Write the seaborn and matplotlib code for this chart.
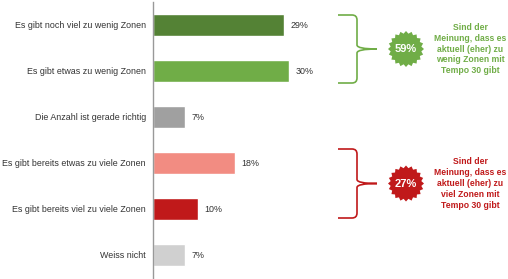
import numpy as np
import pandas as pd
import seaborn as sns
import matplotlib.pyplot as plt
from matplotlib.path import Path
from matplotlib.patches import PathPatch, Polygon

kategorien = ['Es gibt noch viel zu wenig Zonen',
              'Es gibt etwas zu wenig Zonen',
              'Die Anzahl ist gerade richtig',
              'Es gibt bereits etwas zu viele Zonen',
              'Es gibt bereits viel zu viele Zonen',
              'Weiss nicht']
werte = [29, 30, 7, 18, 10, 7]
farben = ['#548235', '#70AD47', '#A0A0A0', '#F28C82', '#C0191A', '#D0D0D0']

gruppe_texte = ['Sind der\nMeinung, dass es\naktuell (eher) zu\nwenig Zonen mit\nTempo 30 gibt',
                'Sind der\nMeinung, dass es\naktuell (eher) zu\nviel Zonen mit\nTempo 30 gibt']
gruppe_werte = ['59%', '27%']
gruppe_farben = ['#70AD47', '#C0191A']

df = pd.DataFrame({'kategorie': kategorien, 'wert': werte})

sns.set_style('white')
plt.rcParams['font.family'] = ['Liberation Sans', 'DejaVu Sans']

W, H = 508, 279
fig = plt.figure(figsize=(W / 100, H / 100), dpi=100)
# Achse: links bei 153 px, oben 2 px, unten 278 px
ax = fig.add_axes([153 / W, 1 / H, (W - 153) / W, 276 / H])
sns.barplot(data=df, x='wert', y='kategorie', hue='kategorie', palette=farben,
            saturation=1, legend=False, width=0.48, orient='h', ax=ax)
ax.set_xlim(0, (W - 153) / 4.53)
ax.set_ylim(5.5, -0.5)
ax.set_xlabel('')
ax.set_ylabel('')
ax.set_xticks([])
ax.tick_params(axis='y', length=0, pad=5, labelsize=6.4, labelcolor='#333333')
for s in ['top', 'right', 'bottom']:
    ax.spines[s].set_visible(False)
ax.spines['left'].set_color('#999999')
ax.spines['left'].set_linewidth(1)

for i, v in enumerate(werte):
    ax.text(v + 1.4, i, f'{v}%', va='center', ha='left', fontsize=6.4, color='#333333')

# Overlay in Pixelkoordinaten für Klammern und Sterne
ov = fig.add_axes([0, 0, 1, 1], facecolor='none')
ov.set_xlim(0, W)
ov.set_ylim(H, 0)
ov.axis('off')


def klammer(top, bot, farbe):
    mid = (top + bot) / 2
    x0, x1, xt = 338, 357, 377
    verts = [(x0, top), (x1 - 5, top), (x1, top), (x1, top + 5), (x1, mid - 4),
             (x1, mid), (xt, mid),
             (x1, mid), (x1, mid + 4), (x1, bot - 5), (x1, bot), (x1 - 5, bot), (x0, bot)]
    codes = [Path.MOVETO, Path.LINETO, Path.CURVE3, Path.CURVE3, Path.LINETO,
             Path.CURVE3, Path.CURVE3,
             Path.CURVE3, Path.CURVE3, Path.LINETO, Path.CURVE3, Path.CURVE3, Path.LINETO]
    ov.add_patch(PathPatch(Path(verts, codes), fill=False, edgecolor=farbe, lw=1.2))


def stern(cx, cy, farbe, n=20, r1=18, r2=15.5):
    ang = np.linspace(0, 2 * np.pi, 2 * n, endpoint=False) - np.pi / 2
    rad = np.where(np.arange(2 * n) % 2 == 0, r1, r2)
    pts = np.column_stack([cx + rad * np.cos(ang), cy + rad * np.sin(ang)])
    ov.add_patch(Polygon(pts, closed=True, facecolor=farbe, edgecolor='none'))


for (top, bot), farbe, gw, gt in zip([(15, 83), (149, 218)], gruppe_farben,
                                     gruppe_werte, gruppe_texte):
    mid = (top + bot) / 2
    klammer(top, bot, farbe)
    stern(406, mid, farbe)
    ov.text(406, mid + 0.5, gw, color='white', fontsize=8, fontweight='bold',
            ha='center', va='center')
    ov.text(470, mid, gt, color=farbe, fontsize=6.2, fontweight='bold',
            ha='center', va='center', linespacing=1.25)

fig.savefig('out.png', dpi=100)
